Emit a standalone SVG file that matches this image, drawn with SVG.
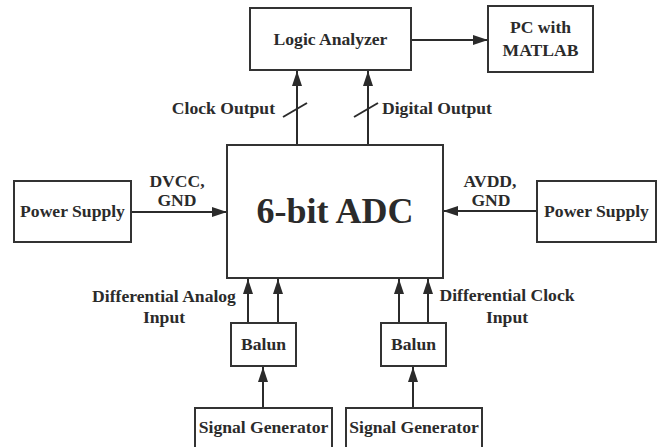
<svg xmlns="http://www.w3.org/2000/svg" width="665" height="447" viewBox="0 0 665 447">
<defs>
<marker id="ah" markerUnits="userSpaceOnUse" markerWidth="16" markerHeight="10" refX="15" refY="5" orient="auto">
<path d="M0,0 L15,5 L0,10 Z" fill="#2b2b2b"/>
</marker>
<style>
.box{fill:#fff;stroke:#333;stroke-width:2}
.t{font-family:"Liberation Serif",Tinos,"Times New Roman",Times,serif;font-weight:bold;font-size:17.6px;fill:#2b2b2b;text-anchor:middle}
.c{stroke:#2b2b2b;stroke-width:2;fill:none}
.a{marker-end:url(#ah)}
</style>
</defs>
<rect width="665" height="447" fill="#fff"/>
<g id="connectors">
<line class="c a" x1="411" y1="40" x2="488" y2="40"/>
<line class="c a" x1="297" y1="145" x2="297" y2="71"/>
<line class="c a" x1="368" y1="145" x2="368" y2="71"/>
<line class="c" x1="283" y1="117" x2="307" y2="103"/>
<line class="c" x1="354" y1="117" x2="378" y2="103"/>
<line class="c a" x1="131" y1="212" x2="227" y2="212"/>
<line class="c a" x1="537" y1="211" x2="443" y2="211"/>
<line class="c a" x1="248" y1="323" x2="248" y2="279"/>
<line class="c a" x1="278" y1="323" x2="278" y2="279"/>
<line class="c a" x1="399" y1="323" x2="399" y2="279"/>
<line class="c a" x1="428" y1="323" x2="428" y2="279"/>
<line class="c a" x1="263" y1="408" x2="263" y2="367"/>
<line class="c a" x1="413" y1="408" x2="413" y2="367"/>
<text class="t" x="275" y="114" style="text-anchor:end">Clock Output</text>
<text class="t" x="382" y="114" style="text-anchor:start">Digital Output</text>
<text class="t" x="177" y="187">DVCC,</text>
<text class="t" x="177" y="206">GND</text>
<text class="t" x="490" y="187">AVDD,</text>
<text class="t" x="491" y="206">GND</text>
<text class="t" x="164" y="302">Differential Analog</text>
<text class="t" x="164" y="323">Input</text>
<text class="t" x="507" y="301">Differential Clock</text>
<text class="t" x="507" y="323">Input</text>
</g>
<g id="logic-analyzer">
<rect class="box" x="250" y="8" width="161" height="62"/>
<text class="t" x="330.5" y="45">Logic Analyzer</text>
</g>
<g id="pc-matlab">
<rect class="box" x="488" y="6" width="105" height="66"/>
<text class="t" x="540.5" y="33">PC with</text>
<text class="t" x="540.5" y="56">MATLAB</text>
</g>
<g id="adc">
<rect class="box" x="227" y="145" width="216" height="133"/>
<text class="t" x="335" y="223" style="font-size:36px">6-bit ADC</text>
</g>
<g id="power-left">
<rect class="box" x="14" y="181" width="117" height="61"/>
<text class="t" x="72.5" y="217">Power Supply</text>
</g>
<g id="power-right">
<rect class="box" x="537" y="181" width="119" height="61"/>
<text class="t" x="596.5" y="217">Power Supply</text>
</g>
<g id="balun-left">
<rect class="box" x="231" y="323" width="65" height="43"/>
<text class="t" x="263.5" y="350">Balun</text>
</g>
<g id="balun-right">
<rect class="box" x="381" y="323" width="65" height="43"/>
<text class="t" x="413.5" y="350">Balun</text>
</g>
<g id="siggen-left">
<rect class="box" x="195" y="408" width="137" height="45"/>
<text class="t" x="263.5" y="433">Signal Generator</text>
</g>
<g id="siggen-right">
<rect class="box" x="346" y="408" width="136" height="45"/>
<text class="t" x="414" y="433">Signal Generator</text>
</g>
</svg>
